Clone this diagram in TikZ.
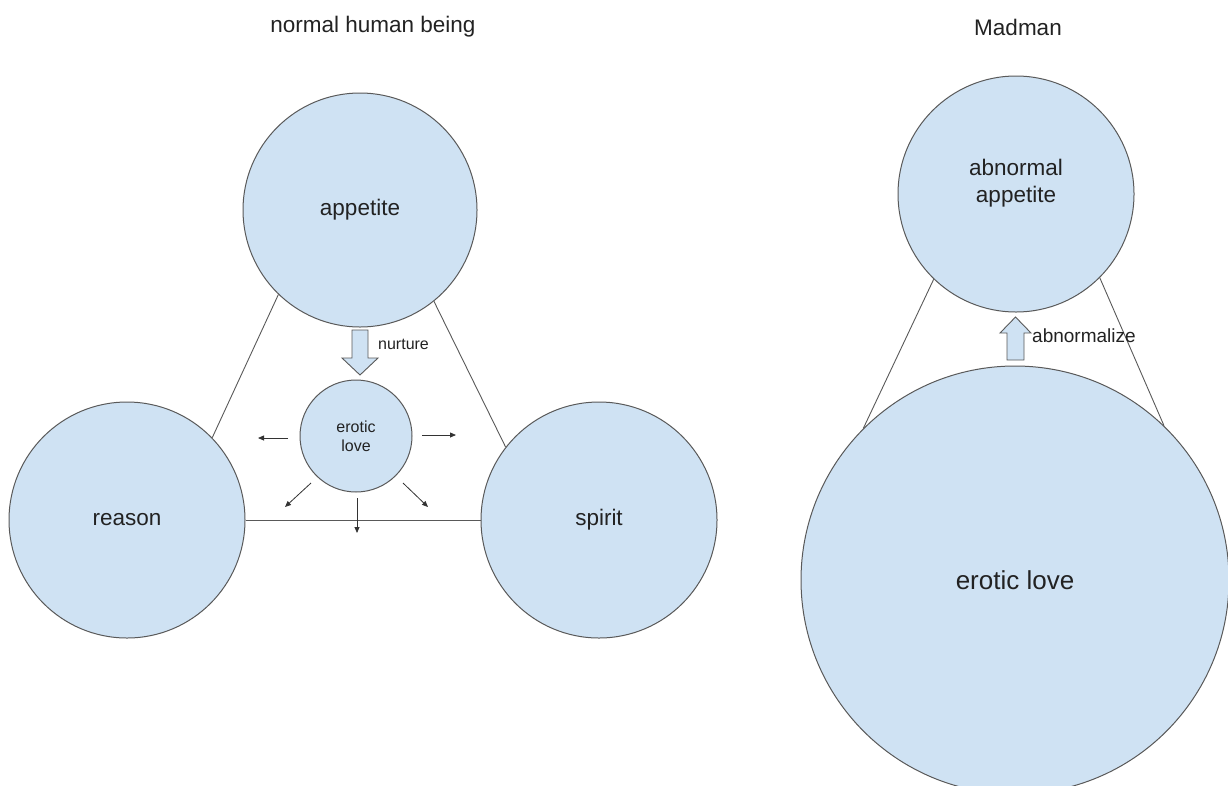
\documentclass[tikz,border=0pt]{standalone}
\usepackage{fontspec}
\setmainfont{Liberation Sans}
\usetikzlibrary{arrows.meta}
\definecolor{bubble}{HTML}{CFE2F3}
\definecolor{edge}{HTML}{595959}
\definecolor{ink}{HTML}{222222}
\newcommand\fnorm{\fontsize{22.5}{27}\selectfont}
\newcommand\fsmallz{\fontsize{16}{19}\selectfont}
\newcommand\fmidz{\fontsize{19}{23}\selectfont}
\newcommand\fhugez{\fontsize{26}{31}\selectfont}
\begin{document}
\begin{tikzpicture}[x=1pt,y=-1pt,
  bub/.style={circle,draw=edge,fill=bubble,line width=1pt,inner sep=0pt,text=ink},
  link/.style={draw=edge,line width=0.9pt},
  ray/.style={draw=black!80,line width=0.8pt,-{Triangle[length=6pt,width=5pt]}},
  blk/.style={draw=edge,fill=bubble,line width=0.9pt,line join=miter},
  lab/.style={text=ink,inner sep=0pt}
]
\useasboundingbox (0,0) rectangle (1228,785);
\clip (0,0) rectangle (1228,785);

% titles
\node[lab,font=\fnorm] (t1) at (373,27) {normal human being};
\node[lab,font=\fnorm] (t2) at (1018,27) {Madman};

% normal human being
\node[bub,minimum size=234pt,font=\fnorm] (app) at (360,210) {appetite};
\node[bub,minimum size=236pt,font=\fnorm] (rea) at (127,520) {reason};
\node[bub,minimum size=236pt,font=\fnorm] (spi) at (599,520) {spirit};
\node[bub,minimum size=112pt,font=\fsmallz,align=center] (ero) at (356,436) {erotic\\love};

\draw[link] (app.226) -- (rea.44);
\draw[link] (app.309) -- (spi.142);
\draw[link] (rea.east) -- (spi.west);

% nurture block arrow
\path[blk] (352,330) -- (368,330) -- (368,358) -- (378,358) -- (360,375) -- (342,358) -- (352,358) -- cycle;
\node[lab,font=\fsmallz,anchor=west] (nur) at (378,344) {nurture};

% rays
\coordinate (r1a) at (288,438); \coordinate (r1b) at (258,438);
\coordinate (r2a) at (422,435); \coordinate (r2b) at (456,435);
\coordinate (r3a) at (311,483); \coordinate (r3b) at (285,507);
\coordinate (r4a) at (403,483); \coordinate (r4b) at (428,507);
\coordinate (r5a) at (357,498); \coordinate (r5b) at (357,533);
\draw[ray] (r1a) -- (r1b);
\draw[ray] (r2a) -- (r2b);
\draw[ray] (r3a) -- (r3b);
\draw[ray] (r4a) -- (r4b);
\draw[ray] (r5a) -- (r5b);

% Madman
\node[bub,minimum size=236pt,
  label={[lab,font=\fnorm,align=center,yshift=11pt]center:abnormal\\appetite}] (abn) at (1016,194) {};
\node[bub,minimum size=428pt,font=\fhugez] (big) at (1015,580) {erotic love};

\draw[link] (abn.226) -- (big.135);
\draw[link] (abn.315) -- (big.46);

% abnormalize block arrow
\path[blk] (1007,360) -- (1024,360) -- (1024,333) -- (1031,333) -- (1015.5,317) -- (1000,333) -- (1007,333) -- cycle;
\node[lab,font=\fmidz,anchor=west] (abz) at (1032,336) {abnormalize};
\end{tikzpicture}
\end{document}
